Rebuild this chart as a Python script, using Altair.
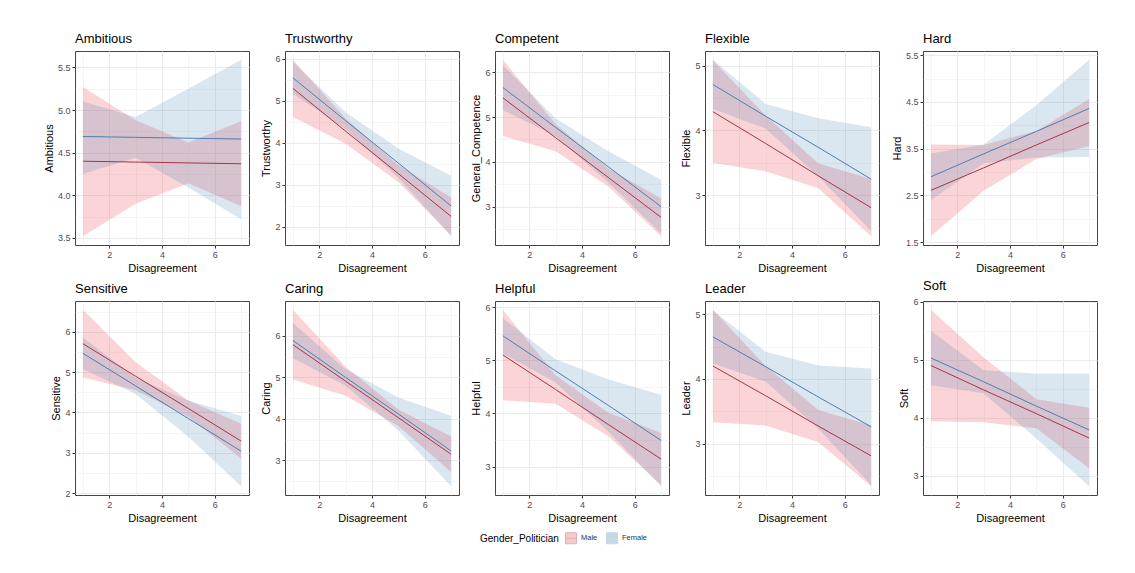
import altair as alt
import pandas as pd

FONT = "Liberation Sans"

TRAITS = ["Ambitious", "Trustworthy", "Competent", "Flexible", "Hard",
          "Sensitive", "Caring", "Helpful", "Leader", "Soft"]
Y_TITLES = ["Ambitious", "Trustworthy", "General_Competence", "Flexible", "Hard",
            "Sensitive", "Caring", "Helpful", "Leader", "Soft"]
X_POINTS = [1, 3, 5, 7]
X_MAJOR = [2, 4, 6]
X_MINOR = [1, 3, 5, 7]
GENDERS = ["Male", "Female"]

# fitted values and confidence bands at Disagreement = 1, 3, 5, 7
MALE_FIT = {
    "Ambitious": [4.40, 4.39, 4.38, 4.37], "Trustworthy": [5.30, 4.28, 3.27, 2.25],
    "Competent": [5.43, 4.54, 3.65, 2.76], "Flexible": [4.29, 3.80, 3.30, 2.81],
    "Hard": [2.61, 3.09, 3.58, 4.06], "Sensitive": [5.71, 4.90, 4.10, 3.29],
    "Caring": [5.79, 4.91, 4.03, 3.15], "Helpful": [5.10, 4.45, 3.79, 3.14],
    "Leader": [4.20, 3.74, 3.27, 2.81], "Soft": [4.90, 4.48, 4.07, 3.65],
}
MALE_LOW = {
    "Ambitious": [3.52, 3.90, 4.14, 3.87], "Trustworthy": [4.62, 3.98, 3.07, 1.80],
    "Competent": [4.58, 4.24, 3.45, 2.34], "Flexible": [3.50, 3.37, 3.11, 2.37],
    "Hard": [1.63, 2.60, 3.28, 3.56], "Sensitive": [4.87, 4.55, 3.90, 2.86],
    "Caring": [4.95, 4.56, 3.83, 2.72], "Helpful": [4.25, 4.18, 3.57, 2.65],
    "Leader": [3.33, 3.28, 3.02, 2.34], "Soft": [3.94, 3.92, 3.82, 3.13],
}
MALE_UP = {
    "Ambitious": [5.27, 4.88, 4.62, 4.87], "Trustworthy": [5.98, 4.58, 3.47, 2.70],
    "Competent": [6.28, 4.84, 3.85, 3.18], "Flexible": [5.08, 4.23, 3.49, 3.25],
    "Hard": [3.59, 3.58, 3.88, 4.56], "Sensitive": [6.55, 5.25, 4.30, 3.72],
    "Caring": [6.63, 5.26, 4.23, 3.58], "Helpful": [5.95, 4.72, 4.01, 3.63],
    "Leader": [5.07, 4.20, 3.52, 3.28], "Soft": [5.86, 5.04, 4.32, 4.17],
}
FEMALE_FIT = {
    "Ambitious": [4.69, 4.68, 4.67, 4.66], "Trustworthy": [5.55, 4.53, 3.52, 2.50],
    "Competent": [5.66, 4.77, 3.89, 3.00], "Flexible": [4.71, 4.22, 3.74, 3.25],
    "Hard": [2.90, 3.39, 3.87, 4.36], "Sensitive": [5.47, 4.66, 3.85, 3.04],
    "Caring": [5.89, 5.00, 4.12, 3.23], "Helpful": [5.46, 4.80, 4.15, 3.49],
    "Leader": [4.65, 4.19, 3.72, 3.26], "Soft": [5.03, 4.62, 4.20, 3.79],
}
FEMALE_LOW = {
    "Ambitious": [4.25, 4.44, 4.09, 3.72], "Trustworthy": [5.17, 4.33, 3.17, 1.78],
    "Competent": [5.16, 4.57, 3.54, 2.40], "Flexible": [4.33, 4.03, 3.29, 2.45],
    "Hard": [2.40, 3.19, 3.31, 3.32], "Sensitive": [5.08, 4.46, 3.40, 2.17],
    "Caring": [5.47, 4.80, 3.72, 2.38], "Helpful": [5.13, 4.58, 3.66, 2.63],
    "Leader": [4.24, 3.96, 3.23, 2.36], "Soft": [4.56, 4.42, 3.64, 2.82],
}
FEMALE_UP = {
    "Ambitious": [5.10, 4.92, 5.25, 5.59], "Trustworthy": [5.93, 4.73, 3.87, 3.22],
    "Competent": [6.16, 4.97, 4.24, 3.60], "Flexible": [5.09, 4.41, 4.19, 4.05],
    "Hard": [3.40, 3.59, 4.43, 5.40], "Sensitive": [5.86, 4.86, 4.30, 3.91],
    "Caring": [6.31, 5.20, 4.52, 4.08], "Helpful": [5.79, 5.02, 4.64, 4.35],
    "Leader": [5.06, 4.42, 4.21, 4.16], "Soft": [5.50, 4.82, 4.76, 4.76],
}

Y_MAJOR = {
    "Ambitious": [3.5, 4.0, 4.5, 5.0, 5.5], "Trustworthy": [2, 3, 4, 5, 6],
    "Competent": [3, 4, 5, 6], "Flexible": [3, 4, 5],
    "Hard": [1.5, 2.5, 3.5, 4.5, 5.5], "Sensitive": [2, 3, 4, 5, 6],
    "Caring": [3, 4, 5, 6], "Helpful": [3, 4, 5, 6],
    "Leader": [3, 4, 5], "Soft": [3, 4, 5, 6],
}
Y_FORMAT = {"Ambitious": ".1f", "Hard": ".1f"}

FILL_RANGE = ["#f07078", "#4682b4"]
FILL_ALPHA = [0.30, 0.20]
STROKE_RANGE = ["#a83444", "#4b7fb2"]

PANEL_W = 174
PANEL_H = 194


def major_axis(title, values, fmt):
    return alt.Axis(
        title=title, values=values, format=fmt, labelOverlap=False,
        tickSize=3, tickColor="#333333", gridColor="#ebebeb", gridWidth=1,
        domain=False, labelColor="#4d4d4d", labelFontSize=9, labelFont=FONT,
        labelPadding=2, titleFont=FONT, titleFontSize=11,
        titleFontWeight="normal", titleColor="#000000", titlePadding=3,
    )


def minor_axis(values, orient):
    return alt.Axis(
        values=values, orient=orient, title=None, labels=False, ticks=False,
        domain=False, grid=True, gridColor="#ebebeb", gridWidth=0.5,
    )


legend = alt.Legend(
    title="Gender_Politician", orient="none", legendX=405, legendY=481,
    direction="horizontal", titleOrient="left", titleFont=FONT,
    titleFontSize=10, titleFontWeight="normal", titleColor="#000000",
    titleBaseline="middle", titlePadding=6,
    labelFont=FONT, labelFontSize=7.5, labelColor="#333333",
    symbolType="M-1,-1H1V1H-1Z M-1,0H1", symbolSize=121, symbolStrokeWidth=1,
    symbolOpacity=alt.ExprRef("datum.value == '%s' ? 0.38 : 0.3" % GENDERS[0]),
    columnPadding=6, labelOffset=4,
)

fill_scale = alt.Scale(domain=GENDERS, range=FILL_RANGE)
alpha_scale = alt.Scale(domain=GENDERS, range=FILL_ALPHA)
stroke_scale = alt.Scale(domain=GENDERS, range=STROKE_RANGE)

panels = []
for trait, ytitle in zip(TRAITS, Y_TITLES):
    rows = []
    for g, fit, lo, up in (("Male", MALE_FIT, MALE_LOW, MALE_UP),
                           ("Female", FEMALE_FIT, FEMALE_LOW, FEMALE_UP)):
        for i, x in enumerate(X_POINTS):
            rows.append({"gender": g, "x": x, "fit": fit[trait][i],
                         "lower": lo[trait][i], "upper": up[trait][i]})
    df = pd.DataFrame(rows)
    lo_all = df["lower"].min()
    hi_all = df["upper"].max()
    pad = 0.05 * (hi_all - lo_all)
    ydom = [lo_all - pad, hi_all + pad]
    major = Y_MAJOR[trait]
    step = major[1] - major[0]
    minor = [m + step / 2 for m in major[:-1]]
    if major[0] - step / 2 >= ydom[0]:
        minor.append(major[0] - step / 2)
    if major[-1] + step / 2 <= ydom[1]:
        minor.append(major[-1] + step / 2)
    fmt = Y_FORMAT.get(trait, "d")

    xscale = alt.Scale(domain=[0.7, 7.3], nice=False, zero=False)
    yscale = alt.Scale(domain=ydom, nice=False, zero=False)
    base = alt.Chart(df)
    area = base.mark_area(strokeWidth=0).encode(
        x=alt.X("x:Q", scale=xscale, axis=major_axis("Disagreement", X_MAJOR, "d")),
        y=alt.Y("lower:Q", scale=yscale, axis=major_axis(ytitle, major, fmt)),
        y2="upper:Q",
        fill=alt.Fill("gender:N", scale=fill_scale, legend=legend, sort=GENDERS),
        fillOpacity=alt.FillOpacity("gender:N", scale=alpha_scale, legend=None),
    )
    line = base.mark_line(strokeWidth=1).encode(
        x=alt.X("x:Q", scale=xscale, axis=minor_axis(X_MINOR, "top")),
        y=alt.Y("fit:Q", scale=yscale, axis=minor_axis(sorted(minor), "right")),
        stroke=alt.Stroke("gender:N", scale=stroke_scale, legend=legend, sort=GENDERS),
    )
    panel = alt.layer(area, line).resolve_axis(x="independent", y="independent").properties(
        width=PANEL_W, height=PANEL_H,
        title=alt.TitleParams(trait, anchor="start", frame="group", font=FONT,
                              fontSize=13, fontWeight="normal", color="#000000",
                              offset=5),
    )
    panels.append(panel)

chart = alt.concat(*panels, columns=5, spacing={"row": 5, "column": 10}).resolve_scale(
    fill="shared", stroke="shared", fillOpacity="shared"
).properties(
    padding={"left": 42, "top": 32, "right": 5, "bottom": 5},
    background="white",
).configure_view(stroke="#444444", strokeWidth=1)

chart.save("out.html", embed_options={"renderer": "svg", "actions": False})
